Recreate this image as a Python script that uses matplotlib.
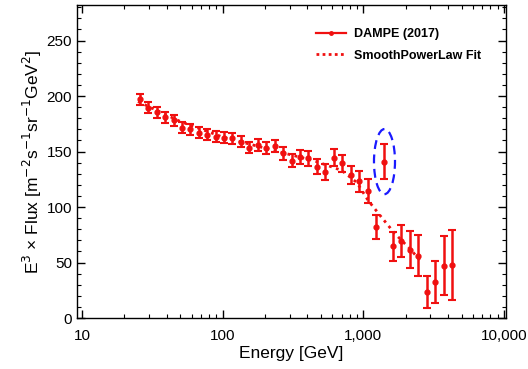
import matplotlib
matplotlib.use("Agg")
import matplotlib.pyplot as plt
from matplotlib.lines import Line2D
from matplotlib.patches import Ellipse
from matplotlib.ticker import FixedLocator, FuncFormatter, LogLocator, MultipleLocator, NullFormatter
import numpy as np

plt.rcParams['font.family'] = ['Liberation Sans', 'DejaVu Sans']

# DAMPE (2017) data points: energy [GeV], E^3 x flux, symmetric error
energy = [25.7, 29.5, 33.9, 38.9, 44.7, 51.3, 58.9, 67.6, 77.6, 89.1,
          102, 117, 135, 155, 178, 204, 234, 269, 309, 355,
          407, 468, 537, 617, 708, 813, 933, 1071, 1230, 1413,
          1622, 1862, 2138, 2455, 2818, 3236, 3715, 4266]
flux = [196.9, 189.3, 185.5, 181.0, 178.0, 171.4, 170.0, 167.0, 165.1, 163.5,
        162.6, 161.9, 158.9, 153.5, 155.9, 153.5, 155.0, 148.3, 141.8, 145.2,
        143.8, 136.2, 131.7, 144.3, 139.3, 128.6, 123.2, 114.4, 81.8, 140.9,
        64.8, 69.3, 61.6, 56.0, 23.6, 32.5, 47.0, 48.1]
err = [5.0, 5.0, 5.0, 5.0, 5.0, 5.0, 5.0, 5.0, 5.0, 5.0,
       5.0, 5.0, 5.2, 5.2, 5.4, 5.4, 5.6, 5.8, 6.0, 6.2,
       6.5, 6.7, 7.0, 7.8, 7.5, 8.2, 9.3, 10.5, 10.8, 15.7,
       13.1, 14.2, 16.4, 18.4, 14.5, 19.1, 26.6, 31.6]

# Smooth power law fit
fit_energy = [25, 50, 100, 200, 447, 700, 900, 1080, 1345, 1673, 2142, 2565]
fit_flux = [195, 177, 163, 153, 141.6, 133, 122, 106, 90.8, 76.1, 62.4, 51.1]

x_ticks = [10, 100, 1000, 10000]
x_ticklabels = ["10", "100", "1,000", "10,000"]
highlight_index = 29

red = "#f01010"

fig = plt.figure(figsize=(5.28, 3.69), dpi=100)
ax = fig.add_axes([0.1458, 0.1382, 0.8122, 0.8483])

ax.plot(fit_energy, fit_flux, linestyle=(0, (1.0, 1.6)), color=red, lw=2.0, zorder=2)
ax.errorbar(energy, flux, yerr=err, fmt='o', color=red, ms=3.5, elinewidth=1.8,
            capsize=2.6, capthick=1.5, zorder=3)

ax.set_xscale('log')
ax.set_xlim(9.2, 10300)
ax.set_ylim(0, 282)

ax.xaxis.set_major_locator(FixedLocator(x_ticks))
ax.xaxis.set_major_formatter(FuncFormatter(lambda v, p: dict(zip(x_ticks, x_ticklabels)).get(int(round(v)), "")))
ax.xaxis.set_minor_locator(LogLocator(base=10, subs=np.arange(2, 10)))
ax.xaxis.set_minor_formatter(NullFormatter())
ax.yaxis.set_major_locator(MultipleLocator(50))
ax.yaxis.set_minor_locator(MultipleLocator(10))

ax.tick_params(which='both', direction='in', top=True, right=True, labelsize=11)
ax.tick_params(which='major', length=6, width=1)
ax.tick_params(which='minor', length=3, width=0.8)
ax.tick_params(axis='x', pad=8)
for s in ax.spines.values():
    s.set_linewidth(1.0)

ax.set_xlabel("Energy [GeV]", fontsize=12.5, labelpad=2)
ax.set_ylabel(r"E$^3$ × Flux [m$^{-2}$s$^{-1}$sr$^{-1}$GeV$^2$]", fontsize=12.5, labelpad=2)

# highlight ellipse around the peak point
fig.canvas.draw()
cx, cy = ax.transAxes.inverted().transform(
    ax.transData.transform((energy[highlight_index], flux[highlight_index])))
ell = Ellipse((cx, cy), 0.049, 0.208, transform=ax.transAxes, fill=False,
              edgecolor='#1a1aff', lw=1.6, linestyle=(0, (4, 2.5)), zorder=4)
ax.add_patch(ell)

handles = [Line2D([], [], color=red, lw=1.6, marker='o', ms=2.5),
           Line2D([], [], color=red, lw=2.0, linestyle=(0, (1.0, 1.2)))]
leg = ax.legend(handles, ["DAMPE (2017)", "SmoothPowerLaw Fit"], loc='upper right',
                bbox_to_anchor=(0.968, 0.962), frameon=False,
                prop={'weight': 'bold', 'size': 9}, handlelength=2.4,
                handletextpad=0.6, labelspacing=0.75)

fig.savefig("out.png", dpi=100)
